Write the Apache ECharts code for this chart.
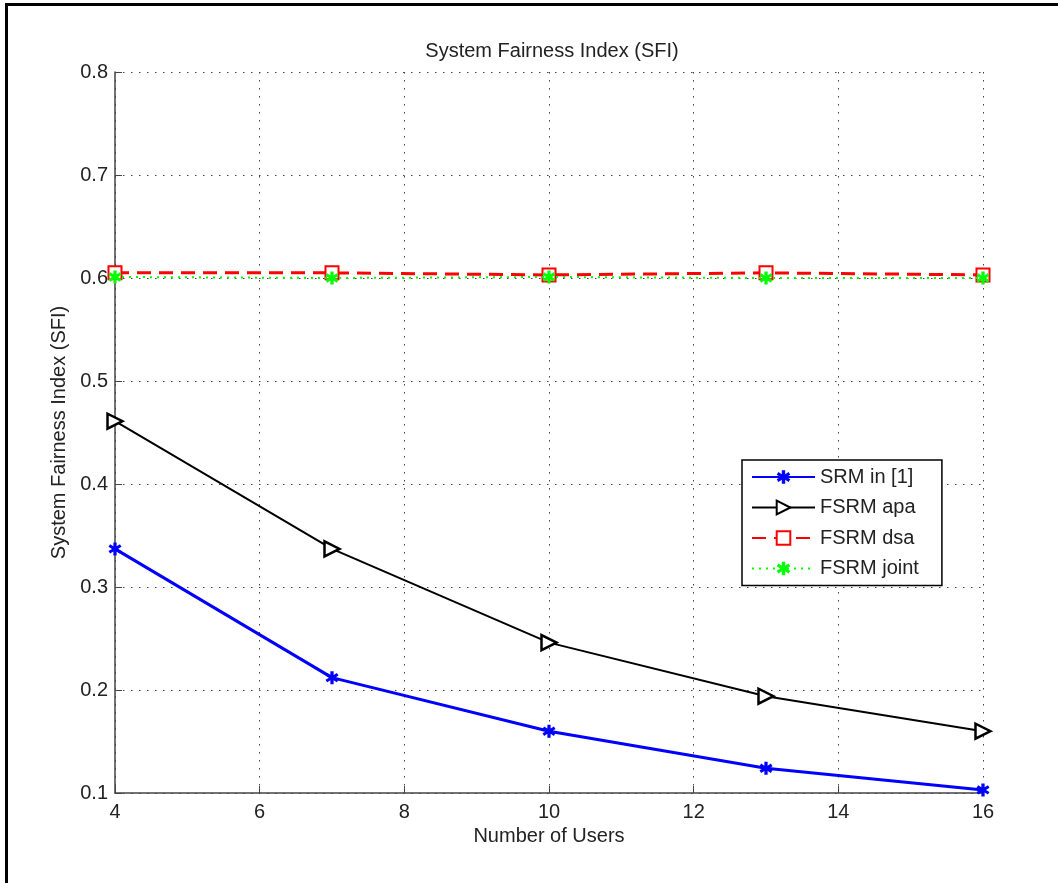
<!DOCTYPE html>
<html>
<head>
<meta charset="utf-8">
<script src="https://cdn.jsdelivr.net/npm/echarts@6/dist/echarts.min.js"></script>
<style>
  html, body { margin: 0; padding: 0; background: #fff; }
  #frame { position: absolute; left: 5px; top: 3px; width: 1053px; height: 880px;
           border-top: 3px solid #000; border-left: 3px solid #000; box-sizing: border-box; }
  #chart { position: absolute; left: 0; top: 0; width: 1058px; height: 883px; }
</style>
</head>
<body>
<div id="frame"></div>
<div id="chart"></div>
<script>
// number of users on the x axis
var users = [4, 7, 10, 13, 16]
// SFI values
var srm = [0.337, 0.212, 0.160, 0.124, 0.103]
var fsrmApa = [0.461, 0.337, 0.246, 0.194, 0.160]
var fsrmDsa = [0.605, 0.605, 0.603, 0.605, 0.603]
var fsrmJoint = [0.601, 0.600, 0.601, 0.600, 0.600]

var xTicks = [4, 6, 8, 10, 12, 14, 16]
var yTicks = [0.1, 0.2, 0.3, 0.4, 0.5, 0.6, 0.7, 0.8]

// matlab-ish '*' marker, chunky so it reads as a blob like the original
var starPath = 'path://M38,0 L62,0 L62,30 L86,14 L98,34 L72,50 L98,66 L86,86 L62,70 L62,100 L38,100 L38,70 L14,86 L2,66 L28,50 L2,34 L14,14 L38,30 Z'

var pairs = arr => users.map((u, i) => [u, arr[i]])
var font = 'Liberation Sans, Arial, sans-serif'
var fs = 20

var myChart = echarts.init(document.getElementById('chart'))
var option = {
    backgroundColor: 'transparent',
    animation: false,
    title: {
        text: 'System Fairness Index (SFI)',
        left: 547, top: 36, textAlign: 'center',
        textStyle: { fontFamily: font, fontSize: fs, fontWeight: 'normal', color: '#222' }
    },
    grid: { left: 115, right: 75, top: 72, bottom: 90 },
    legend: {
        orient: 'vertical',
        left: 742, top: 460,
        itemWidth: 63, itemHeight: 17, itemGap: 10.5,
        padding: [7, 23, 7, 9],
        borderColor: '#000', borderWidth: 1.5,
        backgroundColor: '#fff',
        textStyle: { fontFamily: font, fontSize: fs, color: '#222' },
        data: ['SRM in [1]', 'FSRM apa', 'FSRM dsa', 'FSRM joint']
    },
    xAxis: {
        type: 'value', min: 4, max: 16, interval: 2,
        name: 'Number of Users', nameLocation: 'middle', nameGap: 33,
        nameTextStyle: { fontFamily: font, fontSize: fs, color: '#222' },
        axisLine: { lineStyle: { color: '#444', width: 1.5 } },
        axisTick: { inside: true, length: 7, lineStyle: { color: '#444' } },
        axisLabel: { fontFamily: font, fontSize: fs, color: '#222', margin: 9 },
        splitLine: { show: true, lineStyle: { color: '#444', type: [1.5, 6.5] } }
    },
    yAxis: {
        type: 'value', min: 0.1, max: 0.8, interval: 0.1,
        name: 'System Fairness Index (SFI)', nameLocation: 'middle', nameGap: 46,
        nameTextStyle: { fontFamily: font, fontSize: fs, color: '#222' },
        axisLine: { show: true, lineStyle: { color: '#444', width: 1.5 } },
        axisTick: { show: true, inside: true, length: 7, lineStyle: { color: '#444' } },
        axisLabel: { fontFamily: font, fontSize: fs, color: '#222', margin: 7,
                     formatter: v => (Math.round(v * 10) / 10).toFixed(1) },
        splitLine: { show: true, lineStyle: { color: '#444', type: [1.5, 6.5] } }
    },
    series: [
        {
            name: 'FSRM dsa', type: 'line', data: pairs(fsrmDsa), z: 3,
            symbol: 'rect', symbolSize: 13,
            lineStyle: { color: '#ff0000', width: 3, type: [14, 8] },
            itemStyle: { color: '#fff', borderColor: '#ff0000', borderWidth: 2 }
        },
        {
            name: 'FSRM joint', type: 'line', data: pairs(fsrmJoint), z: 4,
            symbol: starPath, symbolSize: 13,
            lineStyle: { color: '#00ff00', width: 2, type: [2, 5] },
            itemStyle: { color: '#00ff00', borderWidth: 0 }
        },
        {
            name: 'FSRM apa', type: 'line', data: pairs(fsrmApa), z: 5,
            symbol: 'triangle', symbolRotate: -90, symbolSize: 15,
            lineStyle: { color: '#000', width: 2 },
            itemStyle: { color: '#fff', borderColor: '#000', borderWidth: 2.5 }
        },
        {
            name: 'SRM in [1]', type: 'line', data: pairs(srm), z: 6,
            symbol: starPath, symbolSize: 13,
            lineStyle: { color: '#0000ff', width: 3 },
            itemStyle: { color: '#0000ff', borderWidth: 0 }
        }
    ]
}
myChart.setOption(option)
</script>
</body>
</html>
